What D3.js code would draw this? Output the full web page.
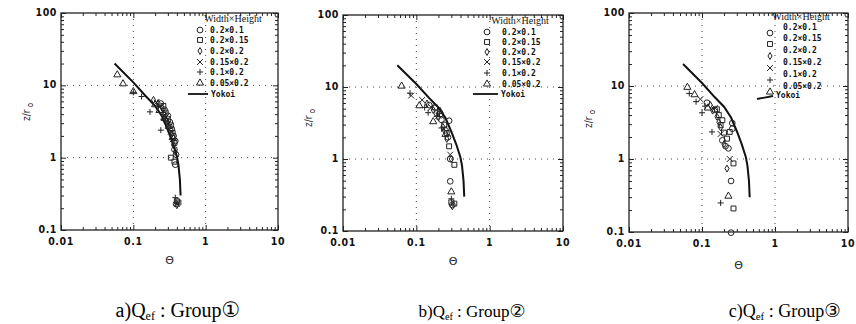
<!DOCTYPE html>
<html>
<head>
<meta charset="utf-8">
<script src="https://cdn.jsdelivr.net/npm/d3@7"></script>
<style>
  body { margin: 0; background: #fff; }
  svg { display: block; }
</style>
</head>
<body>
<svg id="chart" width="856" height="324"></svg>
<script>
// ---- data ----
var seriesNames = ["0.2×0.1", "0.2×0.15", "0.2×0.2", "0.15×0.2", "0.1×0.2", "0.05×0.2"];
var lineName = "Yokoi";
var legendTitle = "Width×Height";
var xTickValues = [0.01, 0.1, 1, 10];
var xTickLabels = ["0.01", "0.1", "1", "10"];
var yTickValues = [0.1, 1, 10, 100];
var yTickLabels = ["0.1", "1", "10", "100"];
var captionLetters = ["a)", "b)", "c)"];
var captionGroups = ["①", "②", "③"];

// Yokoi curve (theta, z/r0)
var yokoiTheta = [0.055, 0.1, 0.15, 0.2, 0.25, 0.3, 0.35, 0.4, 0.42, 0.44, 0.45];
var yokoiZ = [20, 11, 7.0, 5.2, 3.7, 2.4, 1.6, 1.05, 0.8, 0.5, 0.3];

// Group 1 points [theta, z/r0]
var g1_w02h01 = [[0.24,5.6],[0.27,4.6],[0.3,3.8],[0.32,3.1],[0.34,2.5],[0.36,2.0],[0.38,1.7],[0.37,1.3],[0.39,1.1],[0.38,0.8],[0.39,0.23]];
var g1_w02h015 = [[0.26,5.2],[0.28,4.2],[0.3,3.4],[0.33,2.8],[0.35,2.2],[0.37,1.6],[0.33,1.0],[0.37,0.88],[0.4,0.25],[0.42,0.24]];
var g1_w02h02 = [[0.19,6.3],[0.22,5.7],[0.25,4.9],[0.27,4.0],[0.29,3.2],[0.31,2.6],[0.34,2.1],[0.36,1.5],[0.38,1.2],[0.4,0.22]];
var g1_w015h02 = [[0.21,5.8],[0.23,5.0],[0.26,4.4],[0.28,3.6],[0.3,2.9],[0.33,2.3],[0.35,1.8],[0.4,0.23]];
var g1_w01h02 = [[0.1,8.0],[0.13,7.0],[0.17,4.3],[0.24,2.4],[0.22,5.2],[0.26,3.4],[0.38,0.28]];
var g1_w005h02 = [[0.06,14],[0.072,10.5],[0.1,8.2],[0.2,5.4],[0.23,4.5],[0.27,3.5],[0.31,2.7],[0.35,1.9]];

// Group 2 points
var g2_w02h01 = [[0.15,5.6],[0.19,4.3],[0.22,3.5],[0.28,3.4],[0.25,2.5],[0.27,2.0],[0.29,1.0],[0.29,0.49],[0.31,0.23]];
var g2_w02h015 = [[0.18,5.2],[0.21,4.2],[0.24,3.0],[0.26,2.3],[0.28,1.5],[0.33,0.83],[0.33,0.24],[0.3,0.25]];
var g2_w02h02 = [[0.14,5.9],[0.17,4.8],[0.2,3.8],[0.23,2.8],[0.26,1.9],[0.3,1.0],[0.31,0.22]];
var g2_w015h02 = [[0.085,7.6],[0.12,6.6],[0.16,5.2],[0.2,4.0],[0.24,2.6],[0.29,1.15]];
var g2_w01h02 = [[0.082,8.2],[0.13,5.2],[0.145,4.4],[0.19,3.9],[0.22,2.7],[0.3,0.28]];
var g2_w005h02 = [[0.063,10.3],[0.11,5.5],[0.17,3.3],[0.21,4.6],[0.25,2.2],[0.3,0.35]];

// Group 3 points
var g3_w02h01 = [[0.117,5.9],[0.15,4.7],[0.26,3.1],[0.26,2.6],[0.19,1.8],[0.21,1.5],[0.23,1.4],[0.25,0.5],[0.25,0.098]];
var g3_w02h015 = [[0.16,4.8],[0.17,4.0],[0.19,3.4],[0.18,2.9],[0.2,2.3],[0.24,2.35],[0.22,1.9],[0.27,0.87],[0.27,0.21]];
var g3_w02h02 = [[0.13,5.5],[0.14,4.6],[0.16,3.8],[0.17,3.2],[0.18,2.7],[0.2,1.6],[0.22,0.74]];
var g3_w015h02 = [[0.095,6.6],[0.15,5.0],[0.18,2.2],[0.24,1.0]];
var g3_w01h02 = [[0.067,7.9],[0.083,6.1],[0.11,5.3],[0.1,4.3],[0.137,2.35],[0.18,0.25]];
var g3_w005h02 = [[0.063,9.6],[0.079,7.6],[0.12,5.0],[0.23,0.31]];

var groups = [
  [g1_w02h01, g1_w02h015, g1_w02h02, g1_w015h02, g1_w01h02, g1_w005h02],
  [g2_w02h01, g2_w02h015, g2_w02h02, g2_w015h02, g2_w01h02, g2_w005h02],
  [g3_w02h01, g3_w02h015, g3_w02h02, g3_w015h02, g3_w01h02, g3_w005h02]
];

// ---- layout ----
var panels = [
  { x0: 61, x1: 278, y0: 13, y1: 230, ylab: [30, 112], thetaY: 264, capX: 178, capY: 317, capSize: 20,
    leg: { hx: 233, hy: 22, sx: 200, tx: 210, rows: [30, 40, 51, 62, 72, 83], symDy: 0, ly: 94, line: [[188, 94], [208, 94]] } },
  { x0: 343, x1: 563, y0: 15, y1: 231, ylab: [312, 118], thetaY: 265, capX: 472, capY: 317, capSize: 17,
    leg: { hx: 520, hy: 24, sx: 487, tx: 502, rows: [32, 42, 52, 62, 73, 84], symDy: 0, ly: 94, line: [[473, 94], [498, 94]] } },
  { x0: 629, x1: 848, y0: 13, y1: 232, ylab: [592, 119], thetaY: 269, capX: 785, capY: 317, capSize: 18,
    leg: { hx: 801, hy: 20, sx: 770, tx: 783, rows: [27, 38, 50, 62, 74, 86], symDy: 6, ly: 95, line: [[757, 99], [773, 96]] } }
];

var symbolTypes = [d3.symbolCircle, d3.symbolSquare, d3.symbolDiamond, d3.symbolTimes, d3.symbolPlus, d3.symbolTriangle];
var symbolSizes = [26, 24, 14, 24, 14, 22];

var svg = d3.select("#chart");
var tickFont = "'DejaVu Sans Condensed', 'DejaVu Sans', sans-serif";

function minorTicks(lo, hi) {
  var out = [];
  for (var e = lo; e < hi; e++) {
    for (var k = 2; k <= 9; k++) out.push(k * Math.pow(10, e));
  }
  return out;
}

panels.forEach(function (p, pi) {
  var x = d3.scaleLog().domain([0.01, 10]).range([p.x0, p.x1]);
  var y = d3.scaleLog().domain([0.1, 100]).range([p.y1, p.y0]);
  var g = svg.append("g");

  // dotted grid at inner decades
  g.selectAll("line.gx").data([0.1, 1]).enter().append("line")
    .attr("x1", (d) => x(d)).attr("x2", (d) => x(d))
    .attr("y1", p.y0).attr("y2", p.y1)
    .attr("stroke", "#444").attr("stroke-width", 1).attr("stroke-dasharray", "1,5");
  g.selectAll("line.gy").data([1, 10]).enter().append("line")
    .attr("x1", p.x0).attr("x2", p.x1)
    .attr("y1", (d) => y(d)).attr("y2", (d) => y(d))
    .attr("stroke", "#444").attr("stroke-width", 1).attr("stroke-dasharray", "1,5");

  // axes (ticks inward on all four sides)
  var xMinor = minorTicks(-2, 1), yMinor = minorTicks(-1, 2);
  var hgt = p.y1 - p.y0, wid = p.x1 - p.x0;
  function axisSet(axisFn, scale, major, minor, tr) {
    var a1 = g.append("g").attr("transform", tr).call(axisFn(scale).tickValues(major).tickSize(-5).tickFormat(""));
    var a2 = g.append("g").attr("transform", tr).call(axisFn(scale).tickValues(minor).tickSize(-3).tickFormat(""));
    [a1, a2].forEach(function (a) {
      a.select(".domain").remove();
      a.selectAll("line").attr("stroke", "#222").attr("stroke-width", 1);
    });
  }
  axisSet(d3.axisBottom, x, xTickValues, xMinor, "translate(0," + p.y1 + ")");
  axisSet(d3.axisTop, x, xTickValues, xMinor, "translate(0," + p.y0 + ")");
  axisSet(d3.axisLeft, y, yTickValues, yMinor, "translate(" + p.x0 + ",0)");
  axisSet(d3.axisRight, y, yTickValues, yMinor, "translate(" + p.x1 + ",0)");

  g.append("rect")
    .attr("x", p.x0).attr("y", p.y0).attr("width", wid).attr("height", hgt)
    .attr("fill", "none").attr("stroke", "#222").attr("stroke-width", 1.3);

  // tick labels
  g.selectAll("text.xt").data(xTickValues).enter().append("text")
    .attr("x", (d) => x(d)).attr("y", p.y1 + 15)
    .attr("text-anchor", "middle")
    .style("font-family", tickFont).style("font-weight", "bold").style("font-size", "10.5px")
    .style("letter-spacing", "0.6px").attr("fill", "#111")
    .text((d, i) => xTickLabels[i]);
  g.selectAll("text.yt").data(yTickValues).enter().append("text")
    .attr("x", p.x0 - 4).attr("y", (d) => y(d) + 3)
    .attr("text-anchor", "end")
    .style("font-family", tickFont).style("font-weight", "bold").style("font-size", "10.5px")
    .style("letter-spacing", "0.6px").attr("fill", "#111")
    .text((d, i) => yTickLabels[i]);

  // axis titles
  var yl = g.append("text")
    .attr("transform", "translate(" + p.ylab[0] + "," + p.ylab[1] + ") rotate(-90)")
    .attr("text-anchor", "middle")
    .style("font-family", tickFont).style("font-size", "10px").attr("fill", "#222");
  yl.append("tspan").text("z/r");
  yl.append("tspan").attr("dy", 3).style("font-size", "8px").text(" o");
  g.append("text")
    .attr("x", (p.x0 + p.x1) / 2).attr("y", p.thetaY)
    .attr("text-anchor", "middle")
    .style("font-family", "'DejaVu Sans', sans-serif").style("font-size", "11px").attr("fill", "#222")
    .text("Θ");

  // Yokoi line
  var line = d3.line().x((d) => x(d[0])).y((d) => y(d[1]));
  g.append("path")
    .datum(yokoiTheta.map((t, i) => [t, yokoiZ[i]]))
    .attr("d", line)
    .attr("fill", "none").attr("stroke", "#111").attr("stroke-width", 2);

  // scatter
  groups[pi].forEach(function (pts, si) {
    var sym = d3.symbol().type(symbolTypes[si]).size(symbolSizes[si]);
    g.selectAll(null).data(pts).enter().append("path")
      .attr("d", sym)
      .attr("transform", (d) => "translate(" + x(d[0]) + "," + y(d[1]) + ")")
      .attr("fill", "none").attr("stroke", "#222").attr("stroke-width", 1);
  });

  // legend
  var L = p.leg;
  g.append("text").attr("x", L.hx).attr("y", L.hy).attr("text-anchor", "middle")
    .style("font-family", "'Liberation Serif', serif").style("font-size", "10px").attr("fill", "#111")
    .text(legendTitle);
  seriesNames.forEach(function (name, si) {
    var sym = d3.symbol().type(symbolTypes[si]).size(symbolSizes[si]);
    g.append("path").attr("d", sym)
      .attr("transform", "translate(" + L.sx + "," + (L.rows[si] + L.symDy) + ")")
      .attr("fill", "none").attr("stroke", "#222").attr("stroke-width", 1);
    g.append("text").attr("x", L.tx).attr("y", L.rows[si] + 3)
      .style("font-family", "'DejaVu Sans Mono', monospace").style("font-weight", "bold")
      .style("font-size", "8px").attr("fill", "#111")
      .text(name);
  });
  g.append("path").attr("d", d3.line()(L.line))
    .attr("fill", "none").attr("stroke", "#111").attr("stroke-width", 1.8);
  g.append("text").attr("x", L.line[1][0] + 3).attr("y", L.ly + 3)
    .style("font-family", "'DejaVu Sans Mono', monospace").style("font-weight", "bold")
    .style("font-size", "8px").attr("fill", "#111")
    .text(lineName);

  // caption
  var cap = g.append("text").attr("x", p.capX).attr("y", p.capY).attr("text-anchor", "middle")
    .style("font-family", "'Liberation Serif', 'Times New Roman', serif")
    .style("font-size", p.capSize + "px").attr("fill", "#000");
  cap.append("tspan").text(captionLetters[pi] + "Q");
  cap.append("tspan").attr("dy", 3).style("font-size", (p.capSize * 0.6) + "px").text("ef");
  cap.append("tspan").attr("dy", -3).text(" : Group");
  cap.append("tspan").style("font-family", "'DejaVu Sans', 'Noto Sans CJK JP', sans-serif")
    .style("font-size", (p.capSize * 1.05) + "px").text(captionGroups[pi]);
});
</script>
</body>
</html>
